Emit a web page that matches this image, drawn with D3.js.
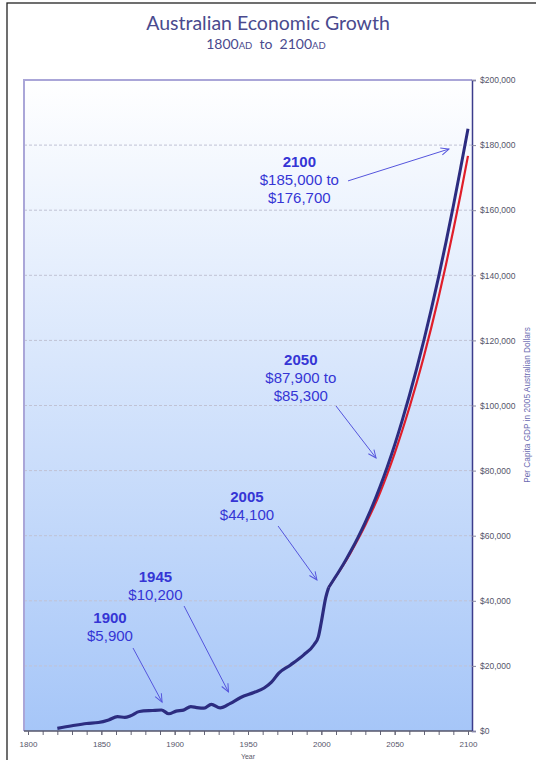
<!DOCTYPE html>
<html><head><meta charset="utf-8">
<script src="https://cdn.jsdelivr.net/npm/d3@7"></script>
<style>body{margin:0;background:#fff}</style>
</head><body><svg id="c" width="536" height="760"></svg>
<script>
// ---------- DATA ----------
const histYears  = [1820,1830,1840,1848,1855,1861,1866,1870,1876,1885,1891,1896,1901,1906,1911,1915,1920,1925,1931,1938,1945,1954,1961,1966,1971,1979,1988,1995,1998,2000,2003,2005];
const histValues = [800,1600,2300,2600,3400,4400,4200,4700,6000,6300,6450,5300,6100,6400,7500,7200,7000,8200,7100,8500,10300,11800,13200,15000,17800,20300,23400,26500,29000,33500,41000,44100];
const projYears = [2005,2010,2015,2020,2025,2030,2035,2040,2045,2050,2055,2060,2065,2070,2075,2080,2085,2090,2095,2100];
const projHigh  = [44100,47600,51200,55200,59500,64200,69300,75000,81200,87900,95200,103000,111300,120200,129600,139600,150200,161300,173000,185000];
const projLow   = [44100,47500,51000,54800,58900,63300,68000,73200,79000,85300,92100,99300,107000,115200,124000,133300,143300,153900,165000,176700];
const yTicks = [0,20000,40000,60000,80000,100000,120000,140000,160000,180000,200000];
const xTicks = [1800,1850,1900,1950,2000,2050,2100];
const xMinor = d3.range(1800, 2101, 10);
// annotations: label lines + text anchor and arrow ends in data units (year, dollars)
const annHeads  = ["2100","2050","2005","1945","1900"];
const annLines  = [["$185,000 to","$176,700"],["$87,900 to","$85,300"],["$44,100"],["$10,200"],["$5,900"]];
const annTextAt = [[1985,173300],[1986,112400],[1949.3,70350],[1886.9,45780],[1855.9,33180]];
const annFrom   = [[2018.2,169000],[2010,99850],[1970.5,62980],[1906.4,38400],[1871.6,25500]];
const annTo     = [[2087,178800],[2037.3,83870],[1997,46390],[1936.7,11980],[1891.4,8900]];

// ---------- CHART ----------
const svg = d3.select("#c");
const plot = {left:24, right:472, top:80, bottom:731};
const x = d3.scaleLinear().domain([1800,2100]).range([28,468]);
const y = d3.scaleLinear().domain([0,200000]).range([plot.bottom, plot.top]);

// outer frame
svg.append("rect").attr("x",7).attr("y",3).attr("width",540).attr("height",770)
  .attr("fill","none").attr("stroke","#222").attr("stroke-width",1.3);

// titles
svg.append("text").attr("x",268).attr("y",30).attr("text-anchor","middle")
  .attr("font-family","Lato, 'Open Sans', sans-serif").attr("font-size",19.5)
  .attr("fill","#4a4a8e").text("Australian Economic Growth");
const sub = svg.append("text").attr("x",266).attr("y",48.5).attr("text-anchor","middle")
  .attr("font-family","Lato, 'Open Sans', sans-serif").attr("font-size",14).attr("fill","#4a4a8e");
sub.append("tspan").text("1800");
sub.append("tspan").attr("font-size",9.5).text("AD");
sub.append("tspan").text("  to  2100");
sub.append("tspan").attr("font-size",9.5).text("AD");
sub.attr("xml:space","preserve");

// background gradient
const defs = svg.append("defs");
const grad = defs.append("linearGradient").attr("id","bg").attr("x1",0).attr("y1",0).attr("x2",0).attr("y2",1);
grad.append("stop").attr("offset","0%").attr("stop-color","#ffffff");
grad.append("stop").attr("offset","100%").attr("stop-color","#a6c6f8");
svg.append("rect").attr("x",plot.left).attr("y",plot.top)
  .attr("width",plot.right-plot.left).attr("height",plot.bottom-plot.top).attr("fill","url(#bg)");

// arrow marker
defs.append("marker").attr("id","arr").attr("viewBox","-10 -6 12 12")
  .attr("refX",0).attr("refY",0).attr("markerWidth",12).attr("markerHeight",12)
  .attr("markerUnits","userSpaceOnUse").attr("orient","auto")
  .append("path").attr("d","M-8,-3.5L0,0L-8,3.5").attr("fill","none")
  .attr("stroke","#5555dd").attr("stroke-width",1);

// gridlines
svg.append("g").selectAll("line").data(yTicks.filter(v=>v>0 && v<200000)).join("line")
  .attr("x1",plot.left).attr("x2",plot.right)
  .attr("y1",d=>y(d)).attr("y2",d=>y(d))
  .attr("stroke","#c0c2d4").attr("stroke-width",1).attr("stroke-dasharray","3,2");

// top/left border
svg.append("path").attr("d",`M${plot.left},${plot.bottom}V${plot.top}H${plot.right}`)
  .attr("fill","none").attr("stroke","#aaa6d8").attr("stroke-width",2);

// right y axis
const yAxis = d3.axisRight(y).tickValues(yTicks).tickSize(4).tickPadding(4)
  .tickFormat(d=>"$"+d3.format(",")(d));
const gy = svg.append("g").attr("transform",`translate(${plot.right},0)`).call(yAxis);
gy.select(".domain").attr("stroke","#3c3c8c").attr("stroke-width",1.5);
gy.selectAll(".tick line").attr("stroke","#8888a0");
gy.selectAll(".tick text").attr("fill","#55556a").attr("font-size",8.5)
  .attr("font-family","'Liberation Sans', Arial, sans-serif");

// bottom x axis
const gxm = svg.append("g").attr("transform",`translate(0,${plot.bottom})`)
  .call(d3.axisBottom(x).tickValues(xMinor).tickSize(4).tickFormat(""));
gxm.select(".domain").remove();
gxm.selectAll(".tick line").attr("stroke","#666677");
const gx = svg.append("g").attr("transform",`translate(0,${plot.bottom})`)
  .call(d3.axisBottom(x).tickValues(xTicks).tickSize(4).tickPadding(6).tickFormat(d3.format("d")));
gx.select(".domain").attr("d",`M${plot.left},0H${plot.right}`).attr("stroke","#55556a").attr("stroke-width",1.5);
gx.selectAll(".tick line").attr("stroke","#666677");
gx.selectAll(".tick text").attr("fill","#55556a").attr("font-size",8)
  .attr("font-family","'Liberation Sans', Arial, sans-serif");

svg.append("text").attr("x",(plot.left+plot.right)/2).attr("y",759).attr("text-anchor","middle")
  .attr("font-family","'Liberation Sans', Arial, sans-serif").attr("font-size",7)
  .attr("fill","#5a5a6a").text("Year");
svg.append("text").attr("transform",`translate(530,405) rotate(-90)`)
  .attr("text-anchor","middle").attr("font-family","'Liberation Sans', Arial, sans-serif")
  .attr("font-size",8.3).attr("fill","#6a6ab0").text("Per Capita GDP in 2005 Australian Dollars");

// lines
const line = d3.line().x(d=>x(d[0])).y(d=>y(d[1])).curve(d3.curveMonotoneX);
svg.append("path").datum(projYears.map((yr,i)=>[yr,projLow[i]])).attr("d",line)
  .attr("fill","none").attr("stroke","#e01e2a").attr("stroke-width",2.2);
svg.append("path").datum(projYears.map((yr,i)=>[yr,projHigh[i]])).attr("d",line)
  .attr("fill","none").attr("stroke","#2c2c80").attr("stroke-width",3);
svg.append("path").datum(histYears.map((yr,i)=>[yr,histValues[i]])).attr("d",line)
  .attr("fill","none").attr("stroke","#2c2c80").attr("stroke-width",3.2).attr("stroke-linejoin","round");

// annotations
const ag = svg.append("g");
annHeads.forEach((h,i)=>{
  const tx = x(annTextAt[i][0]), ty = y(annTextAt[i][1]);
  const t = ag.append("text").attr("text-anchor","middle")
    .attr("font-family","'Liberation Sans', Arial, sans-serif").attr("font-size",15).attr("fill","#3535d5");
  t.append("tspan").attr("x",tx).attr("y",ty).attr("font-weight","bold").text(h);
  annLines[i].forEach((l,j)=>{
    t.append("tspan").attr("x",tx).attr("y",ty+18*(j+1)).text(l);
  });
  ag.append("line").attr("x1",x(annFrom[i][0])).attr("y1",y(annFrom[i][1]))
    .attr("x2",x(annTo[i][0])).attr("y2",y(annTo[i][1]))
    .attr("stroke","#5555dd").attr("stroke-width",1).attr("marker-end","url(#arr)");
});
</script></body></html>
